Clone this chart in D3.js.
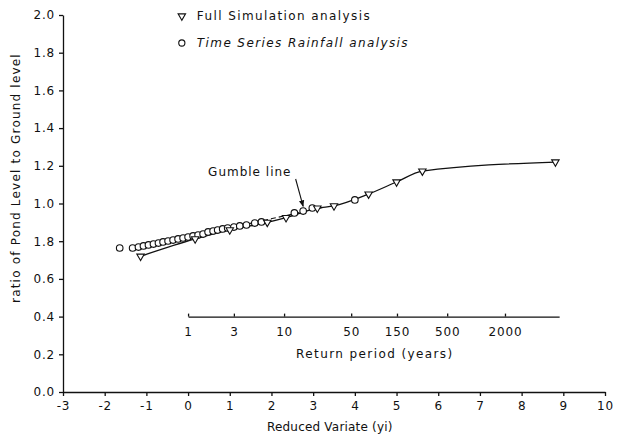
<!DOCTYPE html>
<html>
<head>
<meta charset="utf-8">
<script src="https://cdn.jsdelivr.net/npm/d3@7"></script>
<style>
  body { margin: 0; background: #fff; }
  text { font-family: "DejaVu Sans", sans-serif; font-size: 12px; letter-spacing: 1.4px; fill: #111; }
  .axis path, .axis line { stroke: #111; stroke-width: 1.3px; }
  .axis text { font-size: 12px; letter-spacing: 0.8px; }
</style>
</head>
<body>
<div id="chart"></div>
<script>
// tick values / labels (0.8 is printed as "1.8" in the original)
var xTicks = [-3, -2, -1, 0, 1, 2, 3, 4, 5, 6, 7, 8, 9, 10];
var yTicks = [0, 0.2, 0.4, 0.6, 0.8, 1.0, 1.2, 1.4, 1.6, 1.8, 2.0];
var yTickLabels = ["0.0", "0.2", "0.4", "0.6", "1.8", "1.0", "1.2", "1.4", "1.6", "1.8", "2.0"];
var returnPeriods = [1, 3, 10, 50, 150, 500, 2000];

// Full simulation analysis (reduced variate, ratio)
var simX = [-1.14, 0.17, 1.0, 1.9, 2.35, 3.1, 3.5, 4.33, 5.0, 5.62, 8.81];
var simY = [0.72, 0.812, 0.86, 0.9, 0.925, 0.975, 0.987, 1.05, 1.114, 1.172, 1.22];

// Time series rainfall analysis
var tsX = [-1.64, -1.33, -1.19, -1.07, -0.95, -0.83, -0.71, -0.60, -0.48, -0.36, -0.24, -0.12, 0.0, 0.12,
           0.24, 0.36, 0.48, 0.60, 0.71, 0.83, 0.95, 1.10, 1.24, 1.40, 1.60, 1.76, 2.55, 2.76, 2.98, 4.0];
var tsY = [0.764, 0.764, 0.769, 0.775, 0.780, 0.785, 0.790, 0.796, 0.801, 0.806, 0.812, 0.817, 0.822, 0.828,
           0.833, 0.838, 0.849, 0.854, 0.859, 0.865, 0.870, 0.875, 0.881, 0.886, 0.896, 0.902, 0.950, 0.960, 0.976, 1.019];

// Gumble line end points
var gumbleX = [-1.2, 3.3];
var gumbleY = [0.765, 0.982];

var svg = d3.select("#chart").append("svg")
    .attr("width", 617)
    .attr("height", 434),
    margin = {top: 15, left: 63},
    width = 542,
    height = 377,
    g = svg.append("g").attr("transform", "translate(" + margin.left + "," + margin.top + ")");

var x = d3.scaleLinear().domain([-3, 10]).range([0, width]);
var y = d3.scaleLinear().domain([0, 2]).range([height, 0]);

// return period T plotted at reduced variate ln(T)
var rp = d3.scaleLog().domain([1, Math.exp(8.9)]).range([x(0), x(8.9)]);

g.append("g")
    .attr("class", "x axis")
    .attr("transform", "translate(0," + height + ")")
    .call(d3.axisBottom(x).tickValues(xTicks).tickSizeInner(4).tickSizeOuter(0).tickPadding(5)
      .tickFormat(function(d) { return String(d); }));

g.append("g")
    .attr("class", "y axis")
    .call(d3.axisLeft(y).tickValues(yTicks).tickSizeInner(4).tickSizeOuter(0).tickPadding(4)
      .tickFormat(function(d, i) { return yTickLabels[i]; }));

g.append("g")
    .attr("class", "rp axis")
    .attr("transform", "translate(0," + y(0.4) + ")")
    .call(d3.axisBottom(rp).tickValues(returnPeriods).tickSizeInner(-3).tickSizeOuter(0).tickPadding(11)
      .tickFormat(d3.format("d")));

g.append("text")
    .attr("x", x(4.48))
    .attr("y", y(0.4) + 41)
    .style("text-anchor", "middle")
    .text("Return period (years)");

g.append("text")
    .attr("x", x(3.4))
    .attr("y", height + 39)
    .style("text-anchor", "middle")
    .style("letter-spacing", "0.2px")
    .text("Reduced Variate (yi)");

g.append("text")
    .attr("transform", "translate(" + (-43) + "," + y(1.135) + ") rotate(-90)")
    .style("text-anchor", "middle")
    .style("letter-spacing", "1.2px")
    .text("ratio of Pond Level to Ground level");

// lines
var line = d3.line()
    .x(function(d) { return x(d[0]); })
    .y(function(d) { return y(d[1]); });

g.append("path")
    .datum(d3.zip(gumbleX, gumbleY))
    .attr("fill", "none")
    .attr("stroke", "#111")
    .attr("stroke-width", 1.1)
    .attr("stroke-dasharray", "5,3")
    .attr("d", line);

g.append("path")
    .datum(d3.zip(simX, simY))
    .attr("fill", "none")
    .attr("stroke", "#111")
    .attr("stroke-width", 1.3)
    .attr("d", line.curve(d3.curveMonotoneX));

// markers
var tri = d3.symbol().type(d3.symbolTriangle).size(24);

g.append("g")
  .selectAll("circle")
    .data(d3.zip(tsX, tsY))
  .enter().append("circle")
    .attr("cx", function(d) { return x(d[0]); })
    .attr("cy", function(d) { return y(d[1]); })
    .attr("r", 3.3)
    .attr("fill", "#fff")
    .attr("stroke", "#111")
    .attr("stroke-width", 1.1);

g.append("g")
  .selectAll("path")
    .data(d3.zip(simX, simY))
  .enter().append("path")
    .attr("transform", function(d) { return "translate(" + x(d[0]) + "," + y(d[1]) + ") rotate(180)"; })
    .attr("d", tri)
    .attr("fill", "#fff")
    .attr("stroke", "#111")
    .attr("stroke-width", 1.1);

// Gumble line label + arrow
svg.append("defs").append("marker")
    .attr("id", "arrow")
    .attr("viewBox", "0 0 10 10")
    .attr("refX", 9).attr("refY", 5)
    .attr("markerWidth", 6).attr("markerHeight", 6)
    .attr("orient", "auto")
  .append("path")
    .attr("d", "M0,1 L10,5 L0,9 z")
    .attr("fill", "#111");

g.append("text")
    .attr("x", x(0.48))
    .attr("y", y(1.145))
    .style("letter-spacing", "1.0px")
    .text("Gumble line");

g.append("line")
    .attr("x1", x(2.58)).attr("y1", y(1.13))
    .attr("x2", x(2.76)).attr("y2", y(0.985))
    .attr("stroke", "#111")
    .attr("stroke-width", 1.1)
    .attr("marker-end", "url(#arrow)");

// legend
var legendNames = ["Full Simulation analysis", "Time Series Rainfall analysis"];
var legend = g.append("g")
  .selectAll("g")
    .data(legendNames)
  .enter().append("g")
    .attr("transform", function(d, i) { return "translate(" + x(-0.15) + "," + (1 + i * 27) + ")"; });

legend.append("path")
    .attr("d", function(d, i) { return i == 0 ? tri() : d3.symbol().type(d3.symbolCircle).size(30)(); })
    .attr("transform", function(d, i) { return i == 0 ? "rotate(180)" : ""; })
    .attr("fill", "#fff")
    .attr("stroke", "#111")
    .attr("stroke-width", 1.1);

legend.append("text")
    .attr("x", 15)
    .attr("dy", ".35em")
    .style("font-style", function(d, i) { return i == 1 ? "italic" : "normal"; })
    .text(function(d) { return d; });
</script>
</body>
</html>
